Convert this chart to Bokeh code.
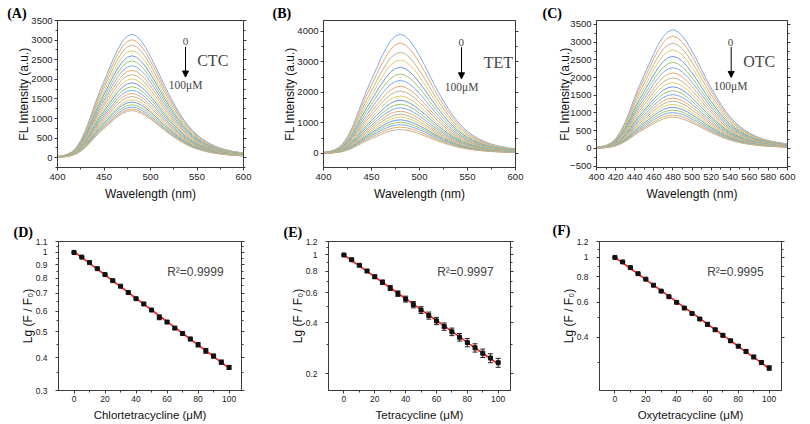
import math
import numpy as np
from bokeh.plotting import figure
from bokeh.models import (FixedTicker, LinearAxis, LogAxis, Range1d, Label, Arrow,
                          NormalHead, Whisker, TeeHead, ColumnDataSource, CustomJSTickFormatter)
from bokeh.layouts import row, column
from bokeh.embed import file_html
from bokeh.resources import INLINE

# ---------------- data ----------------
wavelength = list(range(400, 605, 5))
# normalised emission profile (peak = 1 at 480 nm)
profile = [0.010, 0.015, 0.025, 0.045, 0.080, 0.140, 0.220, 0.320, 0.430, 0.530,
           0.620, 0.710, 0.800, 0.880, 0.945, 0.985, 1.000, 0.985, 0.945, 0.890,
           0.820, 0.745, 0.665, 0.585, 0.510, 0.440, 0.375, 0.315, 0.265, 0.220,
           0.185, 0.155, 0.130, 0.110, 0.092, 0.078, 0.067, 0.058, 0.050, 0.044, 0.038]

# peak intensities for 0, 5, ..., 100 uM
ctc_peaks = [3150, 3010, 2870, 2730, 2600, 2470, 2350, 2230, 2120, 2010, 1910,
             1810, 1720, 1640, 1560, 1480, 1420, 1350, 1290, 1240, 1200]
tet_peaks = [3900, 3610, 3310, 3060, 2820, 2600, 2390, 2200, 2040, 1880, 1740,
             1610, 1490, 1380, 1280, 1190, 1100, 1020, 940, 860, 780]
otc_peaks = [3350, 3170, 2970, 2780, 2600, 2430, 2280, 2130, 1990, 1860, 1740,
             1630, 1520, 1420, 1330, 1240, 1160, 1080, 1010, 940, 880]

conc = list(range(0, 105, 5))
ctc_ratio = [1.000, 0.960, 0.915, 0.868, 0.825, 0.782, 0.745, 0.705, 0.668, 0.638, 0.605,
             0.568, 0.545, 0.517, 0.493, 0.470, 0.447, 0.424, 0.405, 0.384, 0.367]
ctc_err = [0.004, 0.004, 0.005, 0.005, 0.004, 0.005, 0.005, 0.005, 0.005, 0.006, 0.006,
           0.012, 0.006, 0.006, 0.006, 0.007, 0.008, 0.009, 0.007, 0.007, 0.006]
tet_ratio = [1.000, 0.938, 0.870, 0.805, 0.745, 0.692, 0.640, 0.593, 0.551, 0.511, 0.475,
             0.441, 0.410, 0.380, 0.354, 0.329, 0.306, 0.285, 0.265, 0.248, 0.233]
tet_err = [0.004, 0.008, 0.010, 0.014, 0.018, 0.020, 0.022, 0.022, 0.022, 0.022, 0.022,
           0.021, 0.020, 0.019, 0.018, 0.017, 0.017, 0.016, 0.015, 0.015, 0.014]
otc_ratio = [1.000, 0.950, 0.890, 0.830, 0.780, 0.728, 0.680, 0.638, 0.598, 0.560, 0.527,
             0.494, 0.465, 0.437, 0.410, 0.385, 0.362, 0.341, 0.320, 0.300, 0.282]
otc_err = [0.003, 0.004, 0.004, 0.005, 0.005, 0.005, 0.005, 0.005, 0.006, 0.006, 0.006,
           0.006, 0.010, 0.006, 0.006, 0.006, 0.006, 0.006, 0.006, 0.006, 0.007]

r2_texts = ["R\u00b2=0.9999", "R\u00b2=0.9997", "R\u00b2=0.9995"]
curve_colors = ["#80a9e4", "#e6a874", "#bdb48e", "#e0cd6c", "#6d98d6", "#9cc66c"]

SANS = "Liberation Sans"
SERIF = "Liberation Serif"
AX = "#3a3a3a"


class Geo:
    """maps page pixel positions to data coordinates of a figure"""
    def __init__(self, left, top, w, h, b, xr, yr, log=False):
        self.left, self.top = left, top
        self.fl = left + b[0]
        self.fr = left + w - b[1]
        self.ft = top + b[2]
        self.fb = top + h - b[3]
        self.xr, self.yr, self.log = xr, yr, log

    def x(self, px):
        return self.xr[0] + (px - self.fl) / (self.fr - self.fl) * (self.xr[1] - self.xr[0])

    def y(self, py):
        t = (self.fb - py) / (self.fb - self.ft)
        if self.log:
            a, b = math.log10(self.yr[0]), math.log10(self.yr[1])
            return 10 ** (a + t * (b - a))
        return self.yr[0] + t * (self.yr[1] - self.yr[0])


def style_axis(ax, tick_size, label_size, tick_standoff, label_standoff):
    ax.axis_line_color = AX
    ax.major_tick_line_color = AX
    ax.minor_tick_line_color = AX
    ax.major_tick_in = 0
    ax.major_tick_out = 3
    ax.minor_tick_in = 0
    ax.minor_tick_out = 2
    ax.major_label_text_font = SANS
    ax.major_label_text_font_size = tick_size
    ax.major_label_text_color = "#222222"
    ax.major_label_standoff = tick_standoff
    ax.axis_label_text_font = SANS
    ax.axis_label_text_font_style = "normal"
    ax.axis_label_text_font_size = label_size
    ax.axis_label_text_color = "#111111"
    ax.axis_label_standoff = label_standoff


def mirror_right(p, yticker, log=False):
    ax = (LogAxis if log else LinearAxis)(ticker=yticker)
    ax.axis_line_color = AX
    ax.major_tick_line_color = AX
    ax.minor_tick_line_color = AX
    ax.major_tick_in = 0
    ax.major_tick_out = 3
    ax.minor_tick_in = 0
    ax.minor_tick_out = 2
    ax.formatter = CustomJSTickFormatter(code="return '';")
    ax.major_label_standoff = 0
    p.add_layout(ax, "right")


def base_fig(w, h, b, xr, yr, panel, log=False):
    kw = dict(width=w, height=h, output_backend="svg", toolbar_location=None,
              x_range=Range1d(*xr), y_range=Range1d(*yr), min_border_left=b[0],
              min_border_right=b[1], min_border_top=b[2], min_border_bottom=b[3],
              title=panel)
    if log:
        kw["y_axis_type"] = "log"
    p = figure(**kw)
    p.grid.visible = False
    p.outline_line_color = AX
    p.background_fill_color = "white"
    p.border_fill_color = "white"
    return p


def panel_label(p, g, px, standoff=0):
    p.title.align = "left"
    p.title.offset = px - g.fl
    p.title.standoff = standoff
    p.title.text_font = SERIF
    p.title.text_font_size = "14px"
    p.title.text_font_style = "bold"
    p.title.text_color = "black"


def spectrum_fig(left, w, h, b, yr, yticks, yminor, xticks, xminor, peaks, tag, panel,
                 ann, plab, ls):
    xr = (400, 600)
    p = base_fig(w, h, b, xr, yr, panel)
    g = Geo(left, 0, w, h, b, xr, yr)
    for i, pk in enumerate(peaks):
        ys = [pk * v for v in profile]
        p.line(wavelength, ys, line_color=curve_colors[i % len(curve_colors)], line_width=1)
    xt = FixedTicker(ticks=xticks, minor_ticks=xminor)
    yt = FixedTicker(ticks=yticks, minor_ticks=yminor)
    p.xaxis.ticker = xt
    p.yaxis.ticker = yt
    p.xaxis.axis_label = "Wavelength (nm)"
    p.yaxis.axis_label = "FL Intensity (a.u.)"
    style_axis(p.xaxis[0], "9.5px", "12px", 3, 4)
    style_axis(p.yaxis[0], "9.5px", "12px", ls[0], ls[1])
    mirror_right(p, yt)
    (zx, zy), (ax_, aty, aby), (tx, ty), (mx, my) = ann
    p.add_layout(Label(x=g.x(zx), y=g.y(zy), text="0", text_font=SERIF, text_font_size="11px",
                       text_align="center", text_baseline="middle"))
    p.add_layout(Arrow(x_start=g.x(ax_), y_start=g.y(aty), x_end=g.x(ax_), y_end=g.y(aby),
                       line_width=1, line_color="black",
                       end=NormalHead(size=6, fill_color="black", line_color="black")))
    p.add_layout(Label(x=g.x(tx), y=g.y(ty), text=tag, text_font=SERIF, text_font_size="16px",
                       text_baseline="middle"))
    p.add_layout(Label(x=g.x(mx), y=g.y(my), text="100\u03bcM", text_font=SERIF,
                       text_font_size="11.5px", text_baseline="middle"))
    panel_label(p, g, plab)
    return p


def ratio_fig(left, top, w, h, b, yr, yticks, yminor, ratio, err, xlabel, r2, r2pos,
              panel, plab, pstand):
    xr = (-10, 108)
    p = base_fig(w, h, b, xr, yr, panel, log=True)
    g = Geo(left, top, w, h, b, xr, yr, log=True)
    lower = [r - e for r, e in zip(ratio, err)]
    upper = [r + e for r, e in zip(ratio, err)]
    src = ColumnDataSource(dict(x=conc, y=ratio, lo=lower, hi=upper))
    p.add_layout(Whisker(base="x", lower="lo", upper="hi", source=src, dimension="height",
                         line_color="#222222", line_width=1,
                         lower_head=TeeHead(size=5, line_color="#222222", line_width=1),
                         upper_head=TeeHead(size=5, line_color="#222222", line_width=1)))
    slope, icpt = np.polyfit(np.array(conc, float), np.log(np.array(ratio)), 1)
    fit = np.exp(icpt + slope * np.array(conc, float))
    p.line(conc, fit, line_color="#ff1a1a", line_width=1.6)
    p.scatter("x", "y", source=src, marker="square", size=4, color="#111111")
    xt = FixedTicker(ticks=[0, 20, 40, 60, 80, 100], minor_ticks=[10, 30, 50, 70, 90])
    yt = FixedTicker(ticks=yticks, minor_ticks=yminor)
    p.xaxis.ticker = xt
    p.yaxis.ticker = yt
    p.yaxis.formatter = CustomJSTickFormatter(code="return String(Math.round(tick*100)/100);")
    p.xaxis.axis_label = xlabel
    p.yaxis.axis_label = "Lg (F / F\u2080)"
    style_axis(p.xaxis[0], "8.5px", "11.5px", 2, 4)
    style_axis(p.yaxis[0], "8.5px", "12px", 8, -2)
    mirror_right(p, yt, log=True)
    p.add_layout(Label(x=g.x(r2pos[0]), y=g.y(r2pos[1]), text=r2, text_font=SANS,
                       text_font_size="12px", text_baseline="middle"))
    panel_label(p, g, plab, pstand)
    return p


TOP_H = 204
BOT_H = 220

pa = spectrum_fig(0, 270, TOP_H, (57, 27, 20, 35), (-250, 3500),
                  list(range(0, 3501, 500)), list(range(-250, 3501, 500)),
                  list(range(400, 601, 50)), list(range(425, 601, 50)),
                  ctc_peaks, "CTC", "(A)",
                  ((185, 41.5), (185, 46.7, 77.3), (196.7, 61), (168.3, 85)),
                  6.7, (2, -3))
pb = spectrum_fig(270, 270, TOP_H, (53, 25, 20, 37), (-460, 4350),
                  list(range(0, 4001, 1000)), list(range(-500, 4501, 1000)),
                  list(range(400, 601, 50)), list(range(425, 601, 50)),
                  tet_peaks, "TET", "(B)",
                  ((460.7, 41.7), (461, 46.7, 78.3), (483.3, 61.7), (444.3, 86)),
                  272, (2, -3))
pc = spectrum_fig(540, 270, TOP_H, (56, 23, 20, 36), (-540, 3612),
                  list(range(-500, 3501, 500)), list(range(-250, 3612, 500)),
                  list(range(400, 601, 20)), list(range(410, 601, 20)),
                  otc_peaks, "OTC", "(C)",
                  ((730, 41.7), (730.7, 46.7, 77.3), (742.7, 61.7), (713.3, 86)),
                  542, (2, -5))

pd_ = ratio_fig(0, TOP_H, 270, BOT_H, (58, 29, 37, 34), (0.3, 1.1),
                [0.3, 0.4, 0.5, 0.6, 0.7, 0.8, 0.9, 1.0, 1.1],
                [0.35, 0.45, 0.55, 0.65, 0.75, 0.85, 0.95, 1.05],
                ctc_ratio, ctc_err, "Chlortetracycline (\u03bcM)", r2_texts[0], (166.7, 271.7),
                "(D)", 13, 4)
pe = ratio_fig(270, TOP_H, 270, BOT_H, (58, 30, 37, 34), (0.16, 1.2),
               [0.2, 0.4, 0.6, 0.8, 1.0, 1.2],
               [0.3, 0.5, 0.7, 0.9, 1.1],
               tet_ratio, tet_err, "Tetracycline (\u03bcM)", r2_texts[1], (436.7, 271.7),
               "(E)", 283, 4)
pf = ratio_fig(540, TOP_H, 270, BOT_H, (59, 29, 37, 34), (0.218, 1.2),
               [0.4, 0.6, 0.8, 1.0, 1.2],
               [0.3, 0.5, 0.7, 0.9, 1.1],
               otc_ratio, otc_err, "Oxytetracycline (\u03bcM)", r2_texts[2], (706.7, 271.7),
               "(F)", 552, 8)

layout = column(row(pa, pb, pc, spacing=0), row(pd_, pe, pf, spacing=0), spacing=0)
open("out.html", "w").write(file_html(layout, INLINE))
